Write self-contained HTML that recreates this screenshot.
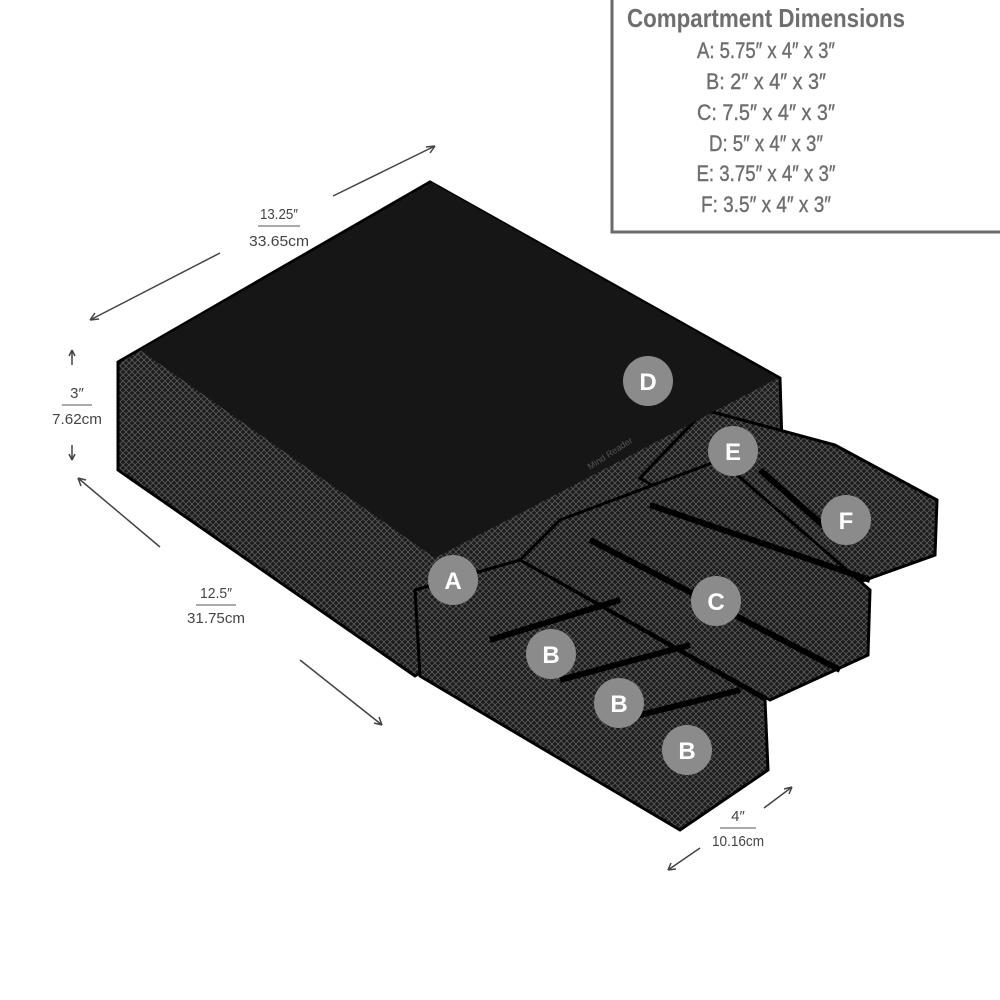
<!DOCTYPE html>
<html><head><meta charset="utf-8"><style>
html,body{margin:0;padding:0;background:#fff}
svg{display:block}
text{font-family:"Liberation Sans",sans-serif}
</style></head><body>
<svg width="1000" height="1000" viewBox="0 0 1000 1000" xmlns="http://www.w3.org/2000/svg">
<defs>
<pattern id="mesh" width="6" height="6" patternUnits="userSpaceOnUse">
<rect width="6" height="6" fill="#1c1c1c"/>
<path d="M0 0L6 6M6 0L0 6" stroke="#5a5a5a" stroke-width="0.8"/>
</pattern>
</defs>
<rect x="612" y="-4" width="400" height="236" fill="#fff" stroke="#6a6a6a" stroke-width="3"/>
<g fill="#6e6e6e" text-anchor="middle">
<text x="766" y="27" font-size="26" font-weight="bold" textLength="278" lengthAdjust="spacingAndGlyphs">Compartment Dimensions</text>
<g font-size="22" stroke="#6e6e6e" stroke-width="0.4">
<text x="766" y="58" textLength="138" lengthAdjust="spacingAndGlyphs">A: 5.75″ x 4″ x 3″</text>
<text x="766" y="89" textLength="120" lengthAdjust="spacingAndGlyphs">B: 2″ x 4″ x 3″</text>
<text x="766" y="120" textLength="138" lengthAdjust="spacingAndGlyphs">C: 7.5″ x 4″ x 3″</text>
<text x="766" y="151" textLength="114" lengthAdjust="spacingAndGlyphs">D: 5″ x 4″ x 3″</text>
<text x="766" y="181" textLength="139" lengthAdjust="spacingAndGlyphs">E: 3.75″ x 4″ x 3″</text>
<text x="766" y="212" textLength="130" lengthAdjust="spacingAndGlyphs">F: 3.5″ x 4″ x 3″</text>
</g></g>
<g fill="#444" text-anchor="middle" font-size="15">
<text x="279" y="219" textLength="38" lengthAdjust="spacingAndGlyphs">13.25″</text><text x="279" y="246" textLength="60" lengthAdjust="spacingAndGlyphs">33.65cm</text>
<text x="77" y="398">3″</text><text x="77" y="424" textLength="50" lengthAdjust="spacingAndGlyphs">7.62cm</text>
<text x="216" y="598" textLength="32" lengthAdjust="spacingAndGlyphs">12.5″</text><text x="216" y="623" textLength="58" lengthAdjust="spacingAndGlyphs">31.75cm</text>
<text x="738" y="821">4″</text><text x="738" y="846" textLength="52" lengthAdjust="spacingAndGlyphs">10.16cm</text>
</g>
<g stroke="#777" stroke-width="1.2">
<line x1="258" y1="226" x2="300" y2="226"/>
<line x1="62" y1="405" x2="92" y2="405"/>
<line x1="196" y1="605" x2="236" y2="605"/>
<line x1="720" y1="828" x2="756" y2="828"/>
</g>
<g stroke="#444" stroke-width="1.5" fill="none">
<path d="M90 320L220 253M90 320l9-1M90 320l5-7"/>
<path d="M333 196L435 146M435 146l-9 1M435 146l-5 7"/>
<path d="M72 350V365M72 350l-3 6M72 350l3 6"/>
<path d="M72 445V460M72 460l-3-6M72 460l3-6"/>
<path d="M78 478L160 547M78 478l3 8M78 478l8 2"/>
<path d="M300 660L382 725M382 725l-3-8M382 725l-8-2"/>
<path d="M764 808L792 787M792 787l-8 2M792 787l-3 7"/>
<path d="M668 870L700 848M668 870l8-1M668 870l3-7"/>
</g>
<polygon points="118,362 430,182 780,378 782,445 415,676 118,470" fill="url(#mesh)" stroke="#000" stroke-width="3"/>
<polygon points="705,410 835,445 937,500 935,555 832,592 640,478" fill="url(#mesh)" stroke="#000" stroke-width="3"/>
<polygon points="560,520 720,460 870,590 868,655 770,700 520,560" fill="url(#mesh)" stroke="#000" stroke-width="3"/>
<polygon points="415,590 520,560 765,700 768,770 680,830 420,676" fill="url(#mesh)" stroke="#000" stroke-width="3"/>
<polygon points="140,350 432,183 778,378 435,558" fill="#161616"/>
<text x="590" y="470" font-size="9" fill="#555" transform="rotate(-33 590 470)">Mind Reader</text>
<g stroke="#000" stroke-width="6" fill="none">
<path d="M490 640L620 600M560 680L690 645M620 720L740 690"/>
<path d="M590 540L840 670M650 505L870 580M760 470L840 540"/>
</g>
<g fill="#8b8b8b">
<circle cx="648" cy="381" r="25"/><circle cx="733" cy="451" r="25"/>
<circle cx="453" cy="580" r="25"/><circle cx="846" cy="520" r="25"/>
<circle cx="716" cy="601" r="25"/><circle cx="551" cy="654" r="25"/>
<circle cx="619" cy="703" r="25"/><circle cx="687" cy="750" r="25"/>
</g>
<g fill="#fff" font-size="24" font-weight="bold" text-anchor="middle">
<text x="648" y="390">D</text><text x="733" y="460">E</text>
<text x="453" y="589">A</text><text x="846" y="529">F</text>
<text x="716" y="610">C</text><text x="551" y="663">B</text>
<text x="619" y="712">B</text><text x="687" y="759">B</text>
</g>
</svg>
</body></html>
